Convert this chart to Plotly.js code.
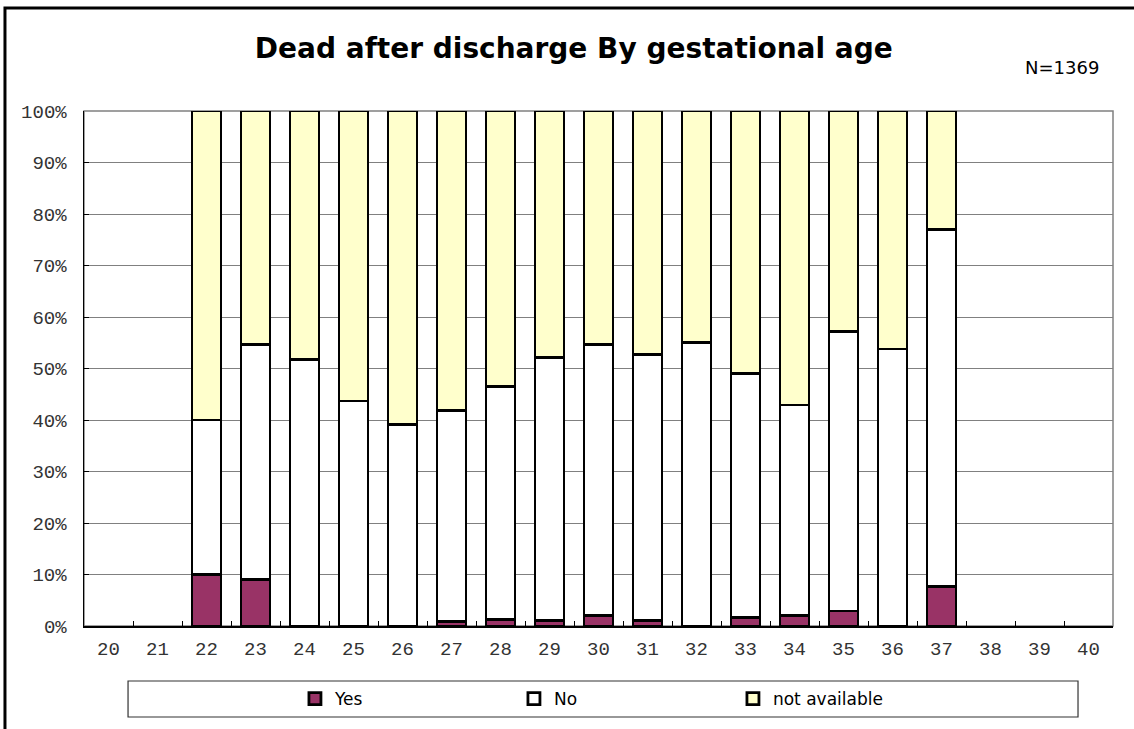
<!DOCTYPE html>
<html>
<head>
<meta charset="utf-8">
<script src="https://cdn.plot.ly/plotly-3.0.1.min.js"></script>
<style>html,body{margin:0;padding:0;background:#fff;}#chart{width:1134px;height:729px;}</style>
</head>
<body>
<div id="chart"></div>
<script>
// Gestational age categories (weeks)
const weeks = ['20','21','22','23','24','25','26','27','28','29','30','31','32','33','34','35','36','37','38','39','40'];
// Segment percentages
const yesPct = [null,null,10.0,9.1,0,0,0,0.8,1.2,1.1,2.1,1.0,0,1.6,2.1,2.9,0,7.7,null,null,null];
const noPct  = [null,null,30.0,45.5,51.8,43.7,39.2,41.1,45.3,51.1,52.5,51.7,55.1,47.5,40.8,54.3,53.8,69.3,null,null,null];
const naPct  = [null,null,60.0,45.4,48.2,56.3,60.8,58.1,53.5,47.8,45.4,47.3,44.9,50.9,57.1,42.8,46.2,23.0,null,null,null];
const yTicks = [0,10,20,30,40,50,60,70,80,90,100];

const lineStyle = {color:'#000', width:2.8};
const traces = [
  {type:'bar', name:'Yes', x:weeks, y:yesPct, marker:{color:'#993366', line:lineStyle}},
  {type:'bar', name:'No', x:weeks, y:noPct, marker:{color:'#ffffff', line:lineStyle}},
  {type:'bar', name:'not available', x:weeks, y:naPct, marker:{color:'#ffffcc', line:lineStyle}}
];

const tickFont = {family:'Liberation Mono, DejaVu Sans Mono, monospace', size:19, color:'#333'};
const layout = {
  width:1134, height:729,
  margin:{l:84, r:21, t:111, b:103},
  paper_bgcolor:'#fff', plot_bgcolor:'#fff',
  barmode:'stack', bargap:0.41,
  showlegend:true,
  title:{text:'<b>Dead after discharge By gestational age</b>', x:0.506, xanchor:'center', y:0.934, yanchor:'middle',
         font:{family:'DejaVu Sans, Verdana, sans-serif', size:28, color:'#000'}},
  xaxis:{type:'category', categoryorder:'array', categoryarray:weeks, tickmode:'array', tickvals:weeks, ticktext:weeks,
         showline:true, linecolor:'#000', linewidth:1.5, ticks:'inside', ticklen:5, tickcolor:'#000', tickson:'boundaries',
         showgrid:false, tickfont:tickFont, ticklabelstandoff:5, zeroline:false, fixedrange:true},
  yaxis:{range:[0,100], tickmode:'array', tickvals:yTicks, ticktext:yTicks.map(v=>v+'%'),
         showline:true, linecolor:'#000', linewidth:1.5, ticks:'inside', ticklen:5, tickcolor:'#000',
         showgrid:true, gridcolor:'#808080', gridwidth:1, zeroline:false,
         tickfont:tickFont, ticklabelstandoff:12, fixedrange:true},
  legend:{orientation:'h', x:0.205, xanchor:'left', y:-0.107, yanchor:'top',
          borderwidth:0, bgcolor:'rgba(0,0,0,0)', traceorder:'normal',
          entrywidth:174, entrywidthmode:'pixels', itemwidth:30,
          font:{family:'DejaVu Sans, Verdana, sans-serif', size:17, color:'#000'}},
  shapes:[
    {type:'rect', xref:'paper', yref:'paper', x0:0, x1:1, y0:0, y1:1, line:{color:'#808080', width:1.5}, layer:'below'},
    {type:'rect', xref:'paper', yref:'paper', x0:0.0428, x1:0.966, y0:-0.1767, y1:-0.1068, line:{color:'#333', width:1.2}, fillcolor:'#fff', layer:'below'},
    {type:'rect', xref:'paper', yref:'paper', x0:-0.0768, x1:1.03, y0:-0.22, y1:1.2, line:{color:'#000', width:3}, layer:'below'}
  ],
  annotations:[
    {text:'N=1369', xref:'paper', yref:'paper', x:0.9125, y:1.085, xanchor:'left', yanchor:'middle', showarrow:false,
     font:{family:'DejaVu Sans, Verdana, sans-serif', size:18, color:'#000'}}
  ]
};

Plotly.newPlot('chart', traces, layout, {displayModeBar:false, staticPlot:true});
</script>
</body>
</html>
